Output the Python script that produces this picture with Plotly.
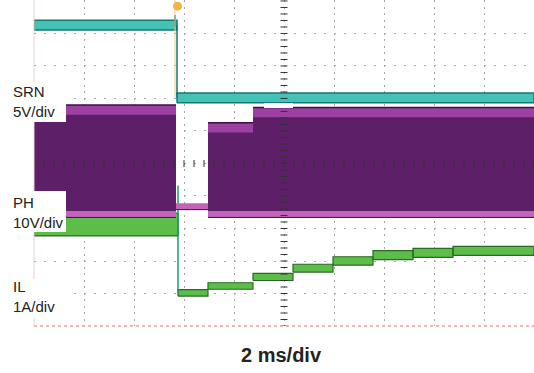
import plotly.graph_objects as go

# Horizontal: time in ms (2 ms/div, 10 div). Vertical: screen divisions (0..10).
srn_t = [0.0, 5.72, 20.0]
srn_lv = [9.26, 7.02]
srn_half = 0.15
srn_spike_t = [5.64, 5.64]
srn_spike_v = [9.20, 9.57]

ph_t = [0.0, 5.68, 6.96, 8.76, 20.0]
ph_top = [6.80, None, 6.25, 6.72]
ph_bot = [3.42, 3.66, 3.42, 3.42]

il_t = [0.0, 5.76, 6.96, 8.76, 10.36, 11.96, 13.56, 15.16, 16.76, 20.0]
il_lv = [3.12, 1.02, 1.23, 1.51, 1.78, 2.00, 2.18, 2.25, 2.31]
il_rip = [0.35, 0.10, 0.10, 0.11, 0.12, 0.13, 0.14, 0.14, 0.14]

trig_t = 5.70

TEAL, TEAL_DK = "#45c2b5", "#127a70"
PURPLE, PURPLE_TOP, PURPLE_PINK, PURPLE_DK = "#5e1f69", "#9c40a2", "#c463bb", "#3e0f47"
GREEN, GREEN_DK = "#5cbd48", "#2a6a26"


def rect_path(t0s, t1s, lows, highs):
    xs, ys = [], []
    for a, b, lo, hi in zip(t0s, t1s, lows, highs):
        xs += [a, b, b, a, a, None]
        ys += [lo, lo, hi, hi, lo, None]
    return xs, ys


def hline_path(t0s, t1s, levels):
    xs, ys = [], []
    for a, b, v in zip(t0s, t1s, levels):
        xs += [a, b, None]
        ys += [v, v, None]
    return xs, ys


fig = go.Figure()

# IL: inductor current band per step
x, y = rect_path(il_t[:-1], il_t[1:],
                 [v - r for v, r in zip(il_lv, il_rip)],
                 [v + r for v, r in zip(il_lv, il_rip)])
fig.add_trace(go.Scatter(x=x, y=y, mode="lines", fill="toself", fillcolor=GREEN,
                         line=dict(color=GREEN_DK, width=1.2), hoverinfo="skip"))
fig.add_trace(go.Scatter(x=[il_t[1], il_t[1]], y=[il_lv[0] + 1.2, il_lv[1]], mode="lines",
                         line=dict(color="#1f9a78", width=1.5), hoverinfo="skip"))

# PH: switching envelope
sw = [i for i, v in enumerate(ph_top) if v is not None]
sw_t0 = [ph_t[i] for i in sw]
sw_t1 = [ph_t[i + 1] for i in sw]
x, y = rect_path(sw_t0, sw_t1, [ph_bot[i] for i in sw], [ph_top[i] for i in sw])
fig.add_trace(go.Scatter(x=x, y=y, mode="lines", fill="toself", fillcolor=PURPLE,
                         line=dict(color=PURPLE, width=0), hoverinfo="skip"))
# lighter band at the top of the envelope
x, y = rect_path(sw_t0, sw_t1, [ph_top[i] - 0.30 for i in sw], [ph_top[i] for i in sw])
fig.add_trace(go.Scatter(x=x, y=y, mode="lines", fill="toself", fillcolor=PURPLE_TOP,
                         line=dict(color=PURPLE_TOP, width=0), hoverinfo="skip"))
x, y = hline_path(sw_t0, sw_t1, [ph_top[i] for i in sw])
fig.add_trace(go.Scatter(x=x, y=y, mode="lines", line=dict(color=PURPLE_DK, width=1.5),
                         hoverinfo="skip"))
# pink floor of the envelope and idle level
x, y = rect_path(ph_t[:-1], ph_t[1:], [v - 0.08 for v in ph_bot], [v + 0.12 for v in ph_bot])
fig.add_trace(go.Scatter(x=x, y=y, mode="lines", fill="toself", fillcolor=PURPLE_PINK,
                         line=dict(color=PURPLE_PINK, width=0), hoverinfo="skip"))
x, y = hline_path(ph_t[:-1], ph_t[1:], [v - 0.08 for v in ph_bot])
fig.add_trace(go.Scatter(x=x, y=y, mode="lines", line=dict(color=PURPLE_DK, width=1),
                         hoverinfo="skip"))

# SRN
x, y = rect_path(srn_t[:-1], srn_t[1:],
                 [v - srn_half for v in srn_lv], [v + srn_half for v in srn_lv])
fig.add_trace(go.Scatter(x=x, y=y, mode="lines", fill="toself", fillcolor=TEAL,
                         line=dict(color=TEAL_DK, width=1.5), hoverinfo="skip"))
fig.add_trace(go.Scatter(x=[srn_t[1], srn_t[1]], y=[srn_lv[0], srn_lv[1]], mode="lines",
                         line=dict(color=TEAL_DK, width=1.5), hoverinfo="skip"))
fig.add_trace(go.Scatter(x=srn_spike_t, y=srn_spike_v, mode="lines",
                         line=dict(color=TEAL_DK, width=1.5), hoverinfo="skip"))

# trigger position line and marker
fig.add_trace(go.Scatter(x=[trig_t - 0.06, trig_t - 0.06], y=[10.1, srn_lv[1]], mode="lines",
                         line=dict(color="#f5c88e", width=1), hoverinfo="skip"))
fig.add_trace(go.Scatter(x=[trig_t + 0.04], y=[9.84], mode="markers", cliponaxis=False,
                         marker=dict(color="#f3b445", size=9, line=dict(width=0)),
                         hoverinfo="skip"))

# centre crosshair sub-division ticks
fig.add_trace(go.Scatter(x=[10] * 51, y=[k * 0.2 for k in range(51)], mode="markers",
                         marker=dict(symbol="line-ew", size=5, line=dict(color="#333", width=1)),
                         hoverinfo="skip"))
fig.add_trace(go.Scatter(x=[k * 0.4 for k in range(51)], y=[5] * 51, mode="markers",
                         marker=dict(symbol="line-ns", size=5, line=dict(color="#333", width=1)),
                         hoverinfo="skip"))

W, H = 534, 373
L, B = 34, 47
PW, PH = W - L, H - B


def px(xp):
    return (xp - L) / PW


def py(yp):
    return (H - B - yp) / PH


shapes = []
# bottom and left frame of the graticule
shapes.append(dict(type="line", xref="paper", yref="paper", x0=0, x1=1, y0=0, y1=0,
                   line=dict(color="#e6a0a0", width=1.5, dash="3px,3px")))
shapes.append(dict(type="line", xref="paper", yref="paper", x0=0, x1=0, y0=0, y1=1,
                   line=dict(color="#f3cccc", width=1)))
# small white channel tag
shapes.append(dict(type="rect", xref="paper", yref="paper", x0=px(264), x1=px(293),
                   y0=py(108), y1=py(103), fillcolor="white", line=dict(width=0)))
# label boxes
for y0, y1 in [(82, 122), (191, 232), (279, 318)]:
    shapes.append(dict(type="rect", xref="paper", yref="paper", x0=px(0), x1=px(66),
                       y0=py(y1), y1=py(y0), fillcolor="white", line=dict(width=0)))

annotations = []
for text, yp in [("SRN<br>5V/div", 102), ("PH<br>10V/div", 212), ("IL<br>1A/div", 296)]:
    annotations.append(dict(text=text, xref="paper", yref="paper", x=px(11), y=py(yp),
                            xanchor="left", yanchor="middle", align="left", showarrow=False,
                            font=dict(family="Liberation Sans, Arial", size=15, color="#222")))
annotations.append(dict(text="<b>2 ms/div</b>", xref="paper", yref="paper", x=px(281), y=py(355),
                        xanchor="center", yanchor="middle", showarrow=False,
                        font=dict(family="Liberation Sans, Arial", size=20, color="#222")))

fig.update_layout(
    width=W, height=H, margin=dict(l=L, r=0, t=0, b=B),
    paper_bgcolor="white", plot_bgcolor="white", showlegend=False,
    shapes=shapes, annotations=annotations,
    xaxis=dict(range=[0, 20], dtick=2, tick0=0, showticklabels=False, ticks="",
               showgrid=True, gridcolor="#a8a8a8", gridwidth=1, griddash="2px,4.5px",
               zeroline=False, showline=False, fixedrange=True),
    yaxis=dict(range=[0, 10.03], dtick=1, tick0=0, showticklabels=False, ticks="",
               showgrid=True, gridcolor="#a8a8a8", gridwidth=1, griddash="2px,8px",
               zeroline=False, showline=False, fixedrange=True),
)

fig.write_html("out.html")
